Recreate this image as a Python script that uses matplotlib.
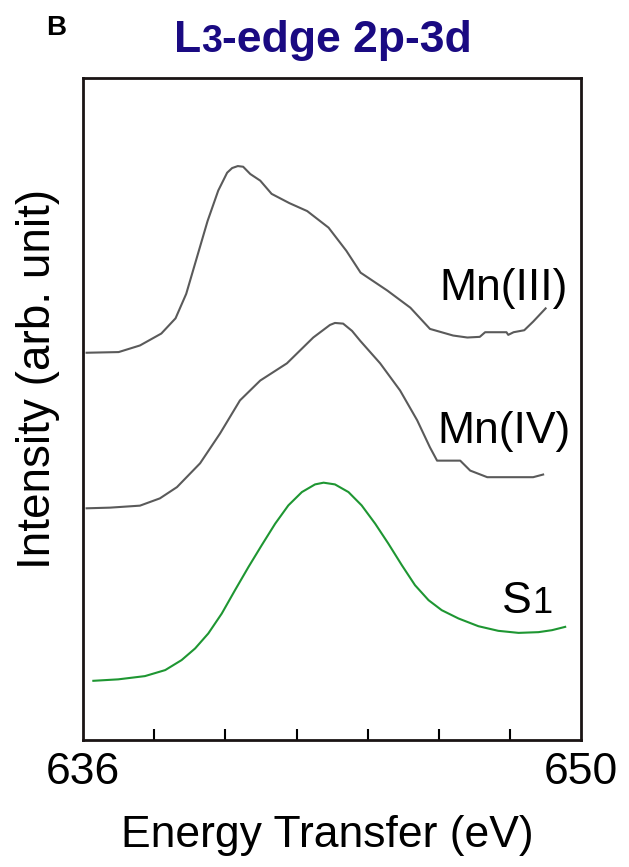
"""L3-edge 2p-3d spectra: Mn(III), Mn(IV) references and S1."""

import matplotlib
matplotlib.use("Agg")
import matplotlib.pyplot as plt
from matplotlib.ticker import FixedLocator

plt.rcParams["font.family"] = ["Liberation Sans", "DejaVu Sans"]

# energy transfer (eV) / intensity (arb. unit)
mn3_energy = [636.1, 637.0, 637.3, 637.6, 638.2, 638.6, 638.9, 639.2, 639.5,
              639.8, 640.05, 640.19, 640.35, 640.5, 640.7, 640.98, 641.3,
              641.8, 642.3, 642.9, 643.4, 643.8, 644.55, 645.2, 645.75,
              646.4, 646.8, 647.15, 647.3, 647.9, 647.95, 648.1, 648.4,
              648.65, 649.0]
mn3_intensity = [58.5, 58.6, 59.1, 59.6, 61.4, 63.7, 67.4, 72.9, 78.4,
                 83.0, 85.7, 86.4, 86.7, 86.6, 85.5, 84.5, 82.5,
                 81.1, 79.9, 77.4, 73.9, 70.6, 67.9, 65.3, 62.1,
                 61.1, 60.8, 60.9, 61.6, 61.6, 61.2, 61.6, 61.9,
                 63.2, 65.2]

mn4_energy = [636.1, 636.76, 637.6, 638.16, 638.64, 639.29, 639.85, 640.41,
              640.98, 641.73, 642.47, 642.94, 643.08, 643.31, 643.56, 643.79,
              644.35, 644.91, 645.39, 645.75, 645.95, 646.6, 646.88, 647.36,
              648.65, 648.93]
mn4_intensity = [35.0, 35.1, 35.4, 36.5, 38.2, 41.8, 46.3, 51.3,
                 54.3, 56.9, 60.8, 62.7, 63.0, 62.9, 61.8, 60.3,
                 56.9, 52.8, 48.3, 44.2, 42.2, 42.2, 40.7, 39.7,
                 39.7, 40.1]

s1_energy = [636.29, 636.99, 637.74, 638.31, 638.77, 639.15, 639.52, 639.90,
             640.27, 640.65, 641.02, 641.40, 641.77, 642.15, 642.52, 642.76,
             643.08, 643.46, 643.83, 644.21, 644.58, 644.96, 645.33, 645.71,
             646.08, 646.55, 647.11, 647.67, 648.24, 648.80, 649.18, 649.55]
s1_intensity = [8.94, 9.16, 9.65, 10.56, 12.07, 13.83, 16.09, 19.11,
                22.62, 26.14, 29.41, 32.68, 35.44, 37.45, 38.61, 38.87,
                38.61, 37.45, 35.44, 32.68, 29.67, 26.40, 23.38, 21.12,
                19.61, 18.36, 17.19, 16.49, 16.18, 16.29, 16.59, 17.09]

minor_ticks = [638, 640, 642, 644, 646, 648]
major_ticks = [636, 650]

fig = plt.figure(figsize=(6.29, 8.67), dpi=100)
ax = fig.add_axes([0.132, 0.1465, 0.792, 0.7635])

ax.plot(mn3_energy, mn3_intensity, color="#5a5a5a", lw=1.5)
ax.plot(mn4_energy, mn4_intensity, color="#5a5a5a", lw=1.5)
ax.plot(s1_energy, s1_intensity, color="#1e9632", lw=1.5)

ax.set_xlim(636, 650)
ax.set_ylim(0, 100)

for sp in ax.spines.values():
    sp.set_linewidth(2.0)
    sp.set_color("#1a1414")

ax.xaxis.set_major_locator(FixedLocator(major_ticks))
ax.xaxis.set_minor_locator(FixedLocator(minor_ticks))
ax.tick_params(axis="x", which="major", length=0, labelsize=32, pad=9)
ax.tick_params(axis="x", which="minor", direction="in", length=8, width=1.5)
ax.set_yticks([])

ax.set_xlabel("Energy Transfer (eV)", fontsize=32)
ax.xaxis.set_label_coords(0.49, -0.113)
ax.xaxis.label.set_va("top")
ax.set_ylabel("Intensity (arb. unit)", fontsize=33)
ax.yaxis.set_label_coords(-0.09, 0.545)
ax.yaxis.label.set_va("center")

# curve labels
ax.text(649.61, 66.5, "Mn(III)", fontsize=32, ha="right", va="baseline")
ax.text(649.69, 44.9, "Mn(IV)", fontsize=32, ha="right", va="baseline")
t_s = ax.text(647.78, 19.2, "S", fontsize=32, ha="left", va="baseline")
ax.annotate("1", xy=(1, 19.2), xycoords=(t_s, "data"), fontsize=26,
            ha="left", va="baseline", annotation_clip=False)

# panel letter and title
fig.text(0.073, 0.9596, "B", fontsize=20, fontweight="bold",
         ha="left", va="baseline")
navy = "#1a0a82"
t_l = fig.text(0.2766, 0.940, "L", fontsize=32, fontweight="bold",
               color=navy, ha="left", va="baseline")
t_3 = ax.annotate("3", xy=(1, 0.940), xycoords=(t_l, "figure fraction"),
                  fontsize=27, fontweight="bold", color=navy,
                  ha="left", va="baseline", annotation_clip=False)
ax.annotate("-edge 2p-3d", xy=(1, 0.940), xycoords=(t_3, "figure fraction"),
            fontsize=32, fontweight="bold", color=navy,
            ha="left", va="baseline", annotation_clip=False)

plt.savefig("out.png", dpi=100)
plt.close()
